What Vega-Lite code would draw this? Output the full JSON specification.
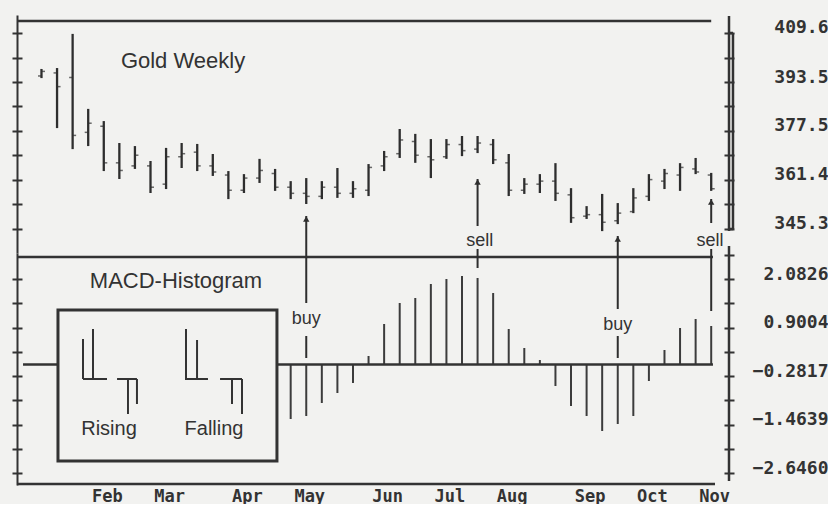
{
  "$schema": "https://vega.github.io/schema/vega-lite/v6.json",
  "background": "#f2f2f0",
  "padding": {"left": 11, "top": 14, "right": 0, "bottom": 0},
  "spacing": 0,
  "bounds": "flush",
  "config": {"view": {"stroke": null}, "axis": {"grid": false, "title": null, "labelFlush": false}},
  "datasets": {
    "ohlc": [
      {"date":"1991-01-04","open":395.5,"high":397.8,"low":394.8,"close":397.0},
      {"date":"1991-01-11","open":396.5,"high":398.1,"low":378.4,"close":392.0},
      {"date":"1991-01-18","open":395.0,"high":409.3,"low":371.5,"close":376.0},
      {"date":"1991-01-25","open":377.0,"high":384.7,"low":372.5,"close":380.0},
      {"date":"1991-02-01","open":379.0,"high":380.7,"low":364.3,"close":367.0},
      {"date":"1991-02-08","open":367.0,"high":373.5,"low":361.7,"close":364.5},
      {"date":"1991-02-15","open":366.0,"high":372.5,"low":365.0,"close":369.5},
      {"date":"1991-02-22","open":366.0,"high":367.6,"low":357.1,"close":359.0},
      {"date":"1991-03-01","open":360.0,"high":371.9,"low":358.4,"close":369.0},
      {"date":"1991-03-08","open":369.0,"high":373.5,"low":365.3,"close":370.0},
      {"date":"1991-03-15","open":370.5,"high":373.2,"low":364.3,"close":366.0},
      {"date":"1991-03-22","open":366.0,"high":369.9,"low":362.7,"close":364.0},
      {"date":"1991-03-29","open":363.0,"high":364.3,"low":355.1,"close":358.0},
      {"date":"1991-04-05","open":358.0,"high":363.3,"low":357.1,"close":362.0},
      {"date":"1991-04-12","open":362.0,"high":368.3,"low":360.4,"close":364.5},
      {"date":"1991-04-19","open":363.5,"high":365.0,"low":357.8,"close":359.0},
      {"date":"1991-04-26","open":359.0,"high":361.0,"low":355.1,"close":357.0},
      {"date":"1991-05-03","open":357.0,"high":362.0,"low":353.5,"close":356.0},
      {"date":"1991-05-10","open":356.0,"high":361.0,"low":355.1,"close":359.0},
      {"date":"1991-05-17","open":359.0,"high":365.3,"low":355.5,"close":357.0},
      {"date":"1991-05-24","open":357.0,"high":361.0,"low":355.5,"close":358.5},
      {"date":"1991-05-31","open":358.0,"high":366.6,"low":356.1,"close":365.5},
      {"date":"1991-06-07","open":366.0,"high":370.9,"low":364.3,"close":369.0},
      {"date":"1991-06-14","open":370.0,"high":378.1,"low":368.6,"close":374.5},
      {"date":"1991-06-21","open":374.0,"high":376.5,"low":367.0,"close":369.5},
      {"date":"1991-06-28","open":369.0,"high":374.8,"low":362.0,"close":368.0},
      {"date":"1991-07-05","open":369.0,"high":374.8,"low":368.3,"close":373.0},
      {"date":"1991-07-12","open":373.0,"high":375.8,"low":369.2,"close":371.0},
      {"date":"1991-07-19","open":371.5,"high":375.8,"low":370.2,"close":373.5},
      {"date":"1991-07-26","open":373.0,"high":374.8,"low":366.6,"close":368.0},
      {"date":"1991-08-02","open":367.0,"high":369.9,"low":356.1,"close":358.0},
      {"date":"1991-08-09","open":358.0,"high":362.0,"low":356.8,"close":360.0},
      {"date":"1991-08-16","open":360.0,"high":363.3,"low":357.1,"close":361.0},
      {"date":"1991-08-23","open":361.0,"high":366.9,"low":354.5,"close":357.0},
      {"date":"1991-08-30","open":356.5,"high":358.7,"low":347.3,"close":349.0},
      {"date":"1991-09-06","open":349.5,"high":352.8,"low":348.6,"close":350.0},
      {"date":"1991-09-13","open":350.0,"high":356.8,"low":344.6,"close":347.5},
      {"date":"1991-09-20","open":348.0,"high":353.8,"low":346.9,"close":350.5},
      {"date":"1991-09-27","open":351.0,"high":358.7,"low":350.5,"close":355.5},
      {"date":"1991-10-04","open":356.0,"high":363.3,"low":354.5,"close":361.5},
      {"date":"1991-10-11","open":361.0,"high":365.0,"low":358.4,"close":363.5},
      {"date":"1991-10-18","open":363.0,"high":366.9,"low":357.8,"close":365.5},
      {"date":"1991-10-25","open":365.0,"high":368.6,"low":363.3,"close":364.0},
      {"date":"1991-11-01","open":363.0,"high":363.7,"low":357.8,"close":358.5}
    ],
    "macd": [
      {"date":"1991-04-26","hist":-1.33},
      {"date":"1991-05-03","hist":-1.256},
      {"date":"1991-05-10","hist":-0.939},
      {"date":"1991-05-17","hist":-0.696},
      {"date":"1991-05-24","hist":-0.452},
      {"date":"1991-05-31","hist":0.206},
      {"date":"1991-06-07","hist":0.986},
      {"date":"1991-06-14","hist":1.498},
      {"date":"1991-06-21","hist":1.62},
      {"date":"1991-06-28","hist":1.961},
      {"date":"1991-07-05","hist":2.083},
      {"date":"1991-07-12","hist":2.156},
      {"date":"1991-07-19","hist":2.107},
      {"date":"1991-07-26","hist":1.741},
      {"date":"1991-08-02","hist":0.864},
      {"date":"1991-08-09","hist":0.401},
      {"date":"1991-08-16","hist":0.108},
      {"date":"1991-08-23","hist":-0.525},
      {"date":"1991-08-30","hist":-1.013},
      {"date":"1991-09-06","hist":-1.256},
      {"date":"1991-09-13","hist":-1.622},
      {"date":"1991-09-20","hist":-1.451},
      {"date":"1991-09-27","hist":-1.256},
      {"date":"1991-10-04","hist":-0.403},
      {"date":"1991-10-11","hist":0.352},
      {"date":"1991-10-18","hist":0.888},
      {"date":"1991-10-25","hist":1.108},
      {"date":"1991-11-01","hist":0.937}
    ],
    "sigU": [
      {"date":"1991-05-03","p1":349.56,"p2":337.42},
      {"date":"1991-09-20","p1":343.0,"p2":337.42},
      {"date":"1991-07-19","p1":361.7,"p2":346.28},
      {"date":"1991-07-19","p1":338.73,"p2":337.42},
      {"date":"1991-11-01","p1":355.14,"p2":347.26},
      {"date":"1991-11-01","p1":338.73,"p2":337.42}
    ],
    "heads": [
      {"date":"1991-05-03","p":349.56},
      {"date":"1991-09-20","p":343.0},
      {"date":"1991-07-19","p":361.7},
      {"date":"1991-11-01","p":355.14}
    ],
    "frameU": [
      {"x1":"1990-12-24T00:00:00Z","x2":"1991-11-01T00:00:00Z","p1":413.54,"p2":413.54},
      {"x1":"1991-11-09T00:00:00Z","x2":"1991-11-09T00:00:00Z","p1":415.18,"p2":344.64},
      {"x1":"1991-11-09T00:00:00Z","x2":"1991-11-10T19:00:00Z","p1":409.6,"p2":409.6},
      {"x1":"1991-11-10T19:00:00Z","x2":"1991-11-10T19:00:00Z","p1":409.6,"p2":345.3},
      {"x1":"1991-11-09T00:00:00Z","x2":"1991-11-10T19:00:00Z","p1":345.3,"p2":345.3}
    ],
    "sigL": [
      {"date":"1991-05-03","v1":2.7163,"v2":1.497},
      {"date":"1991-05-03","v1":0.6934,"v2":0.157},
      {"date":"1991-09-20","v1":2.7163,"v2":1.351},
      {"date":"1991-09-20","v1":0.693,"v2":0.157},
      {"date":"1991-07-19","v1":2.7163,"v2":2.3507},
      {"date":"1991-11-01","v1":2.7163,"v2":1.3027}
    ],
    "frameL": [
      {"x1":"1990-12-24T00:00:00Z","x2":"1991-11-01T19:00:00Z","v1":2.619,"v2":2.619},
      {"x1":"1990-12-26T17:00:00Z","x2":"1991-11-01T19:00:00Z","v1":0,"v2":0},
      {"x1":"1990-12-24T00:00:00Z","x2":"1991-11-02T17:00:00Z","v1":-2.9137,"v2":-2.9137},
      {"x1":"1991-11-09T00:00:00Z","x2":"1991-11-09T00:00:00Z","v1":2.887,"v2":-2.841}
    ],
    "box": [
      {"x1":"1991-01-11T10:00:00Z","x2":"1991-04-19T20:00:00Z","v1":1.327,"v2":-2.353}
    ],
    "glyphs": [
      {"x1":"1991-01-22T16:00:00Z","x2":"1991-01-22T16:00:00Z","v1":0.62,"v2":-0.355},
      {"x1":"1991-01-27T04:00:00Z","x2":"1991-01-27T04:00:00Z","v1":0.864,"v2":-0.355},
      {"x1":"1991-01-22T16:00:00Z","x2":"1991-02-02T11:00:00Z","v1":-0.355,"v2":-0.355},
      {"x1":"1991-02-06T23:00:00Z","x2":"1991-02-15T22:00:00Z","v1":-0.355,"v2":-0.355},
      {"x1":"1991-02-11T21:00:00Z","x2":"1991-02-11T21:00:00Z","v1":-0.355,"v2":-1.208},
      {"x1":"1991-02-15T22:00:00Z","x2":"1991-02-15T22:00:00Z","v1":-0.355,"v2":-0.964},
      {"x1":"1991-03-09T23:00:00Z","x2":"1991-03-09T23:00:00Z","v1":0.864,"v2":-0.355},
      {"x1":"1991-03-14T22:00:00Z","x2":"1991-03-14T22:00:00Z","v1":0.596,"v2":-0.355},
      {"x1":"1991-03-09T12:00:00Z","x2":"1991-03-19T20:00:00Z","v1":-0.355,"v2":-0.355},
      {"x1":"1991-03-25T06:00:00Z","x2":"1991-04-04T03:00:00Z","v1":-0.355,"v2":-0.355},
      {"x1":"1991-03-30T15:00:00Z","x2":"1991-03-30T15:00:00Z","v1":-0.355,"v2":-0.964},
      {"x1":"1991-04-04T03:00:00Z","x2":"1991-04-04T03:00:00Z","v1":-0.355,"v2":-1.208}
    ]
  },
  "vconcat": [
    {
      "width": 712,
      "height": 238,
      "resolve": {"axis": {"y": "independent"}},
      "layer": [
        {
          "data": {"name": "ohlc"},
          "mark": {"type": "rule", "strokeWidth": 2.3, "color": "#2e2e2e"},
          "encoding": {
            "x": {"field": "date", "type": "temporal", "scale": {"type": "utc", "domain": [{"year":1990,"month":12,"date":24,"utc":true},{"year":1991,"month":11,"date":9,"utc":true}]}, "axis": null},
            "y": {"field": "high", "type": "quantitative", "scale": {"domain": [337.42, 415.5], "zero": false, "nice": false},
                  "axis": {"orient": "left", "values": [409.6,401.55,393.5,385.5,377.5,369.45,361.4,353.35,345.3], "labels": false, "ticks": true, "tickSize": 5, "tickWidth": 2, "tickColor": "#333", "domain": true, "domainWidth": 2, "domainColor": "#333"}},
            "y2": {"field": "low"}
          }
        },
        {
          "data": {"name": "ohlc"},
          "mark": {"type": "tick", "orient": "horizontal", "size": 3, "thickness": 1.5, "xOffset": -2, "color": "#2e2e2e"},
          "encoding": {
            "x": {"field": "date", "type": "temporal", "axis": null},
            "y": {"field": "open", "type": "quantitative",
                  "axis": {"orient": "left", "offset": -5, "values": [409.6,401.55,393.5,385.5,377.5,369.45,361.4,353.35,345.3], "labels": false, "ticks": true, "tickSize": 5, "tickWidth": 2, "tickColor": "#333", "domain": false}}
          }
        },
        {
          "data": {"name": "ohlc"},
          "mark": {"type": "tick", "orient": "horizontal", "size": 3, "thickness": 1.5, "xOffset": 2, "color": "#2e2e2e"},
          "encoding": {
            "x": {"field": "date", "type": "temporal", "axis": null},
            "y": {"field": "close", "type": "quantitative",
                  "axis": {"orient": "right", "values": [409.6,401.55,393.5,385.5,377.5,369.45,361.4,353.35,345.3], "labels": false, "ticks": true, "tickSize": 5, "tickWidth": 2, "tickColor": "#333", "domain": false}}
          }
        },
        {
          "data": {"name": "sigU"},
          "mark": {"type": "rule", "strokeWidth": 2, "color": "#2e2e2e"},
          "encoding": {
            "x": {"field": "date", "type": "temporal", "axis": null},
            "y": {"field": "p1", "type": "quantitative",
                  "axis": {"orient": "right", "offset": -5, "values": [409.6,401.55,393.5,385.5,377.5,369.45,361.4,353.35,345.3], "labels": false, "ticks": true, "tickSize": 5, "tickWidth": 2, "tickColor": "#333", "domain": false}},
            "y2": {"field": "p2"}
          }
        },
        {
          "data": {"name": "heads"},
          "mark": {"type": "point", "shape": "triangle-up", "filled": true, "size": 40, "color": "#2e2e2e", "opacity": 1, "yOffset": 3},
          "encoding": {
            "x": {"field": "date", "type": "temporal", "axis": null},
            "y": {"field": "p", "type": "quantitative",
                  "axis": {"orient": "right", "values": [409.6,393.5,377.5,361.4,345.3], "format": ".1f", "ticks": false, "tickSize": 0, "domain": false, "labelAlign": "right", "labelBaseline": "middle", "labelPadding": 99, "labelOffset": -5, "labelFont": "DejaVu Sans Mono", "labelFontWeight": "bold", "labelFontSize": 18, "labelColor": "#333"}}
          }
        },
        {
          "data": {"name": "frameU"},
          "mark": {"type": "rule", "strokeWidth": 2.5, "color": "#333"},
          "encoding": {
            "x": {"field": "x1", "type": "temporal", "axis": null},
            "x2": {"field": "x2"},
            "y": {"field": "p1", "type": "quantitative", "axis": null},
            "y2": {"field": "p2"}
          }
        },
        {
          "data": {"values": [{"date": "1991-03-08T15:00:00Z", "p": 398.12, "label": "Gold Weekly"}]},
          "mark": {"type": "text", "font": "Liberation Sans", "fontSize": 22, "color": "#333", "align": "center", "baseline": "alphabetic"},
          "encoding": {
            "x": {"field": "date", "type": "temporal", "axis": null},
            "y": {"field": "p", "type": "quantitative", "axis": null},
            "text": {"field": "label"}
          }
        },
        {
          "data": {"values": [{"date": "1991-07-20T00:00:00Z", "p": 339.72, "label": "sell"}, {"date": "1991-10-31T11:00:00Z", "p": 339.72, "label": "sell"}]},
          "mark": {"type": "text", "font": "Liberation Sans", "fontSize": 18, "color": "#333", "align": "center", "baseline": "alphabetic"},
          "encoding": {
            "x": {"field": "date", "type": "temporal", "axis": null},
            "y": {"field": "p", "type": "quantitative", "axis": null},
            "text": {"field": "label"}
          }
        }
      ]
    },
    {
      "width": 712,
      "height": 232,
      "resolve": {"axis": {"y": "independent"}},
      "layer": [
        {
          "data": {"name": "macd"},
          "mark": {"type": "rule", "strokeWidth": 2, "color": "#3c3c3c"},
          "encoding": {
            "x": {"field": "date", "type": "temporal", "scale": {"type": "utc", "domain": [{"year":1990,"month":12,"date":24,"utc":true},{"year":1991,"month":11,"date":9,"utc":true}]},
                  "axis": {"orient": "bottom", "values": [{"year":1991,"month":2,"date":1,"utc":true},{"year":1991,"month":3,"date":1,"utc":true},{"year":1991,"month":4,"date":5,"utc":true},{"year":1991,"month":5,"date":3,"utc":true},{"year":1991,"month":6,"date":7,"utc":true},{"year":1991,"month":7,"date":5,"utc":true},{"year":1991,"month":8,"date":2,"utc":true},{"year":1991,"month":9,"date":6,"utc":true},{"year":1991,"month":10,"date":4,"utc":true},{"year":1991,"month":11,"date":1,"utc":true}],
                           "labelExpr": "utcFormat(datum.value, '%b')", "ticks": false, "tickSize": 0, "domain": false, "labelPadding": 3, "labelOffset": 3, "labelOverlap": false, "labelFont": "DejaVu Sans Mono", "labelFontWeight": "bold", "labelFontSize": 17, "labelColor": "#333"}},
            "y": {"field": "hist", "type": "quantitative", "scale": {"domain": [-2.9381, 2.7163], "zero": false, "nice": false},
                  "axis": {"orient": "left", "values": [2.0826,1.4915,0.9004,0.3094,-0.2817,-0.8728,-1.4639,-2.055,-2.646], "labels": false, "ticks": true, "tickSize": 5, "tickWidth": 2, "tickColor": "#333", "domain": true, "domainWidth": 2, "domainColor": "#333"}},
            "y2": {"datum": 0}
          }
        },
        {
          "data": {"name": "frameL"},
          "mark": {"type": "rule", "strokeWidth": 2.5, "color": "#333"},
          "encoding": {
            "x": {"field": "x1", "type": "temporal"},
            "x2": {"field": "x2"},
            "y": {"field": "v1", "type": "quantitative",
                  "axis": {"orient": "left", "offset": -5, "values": [2.0826,1.4915,0.9004,0.3094,-0.2817,-0.8728,-1.4639,-2.055,-2.646], "labels": false, "ticks": true, "tickSize": 5, "tickWidth": 2, "tickColor": "#333", "domain": false}},
            "y2": {"field": "v2"}
          }
        },
        {
          "data": {"name": "sigL"},
          "mark": {"type": "rule", "strokeWidth": 2, "color": "#2e2e2e"},
          "encoding": {
            "x": {"field": "date", "type": "temporal"},
            "y": {"field": "v1", "type": "quantitative",
                  "axis": {"orient": "right", "values": [2.6737,2.0826,1.4915,0.9004,0.3094,-0.2817,-0.8728,-1.4639,-2.055,-2.646], "labels": false, "ticks": true, "tickSize": 5, "tickWidth": 2, "tickColor": "#333", "domain": false}},
            "y2": {"field": "v2"}
          }
        },
        {
          "data": {"name": "box"},
          "mark": {"type": "rect", "fill": "#f2f2f0", "stroke": "#333", "strokeWidth": 3},
          "encoding": {
            "x": {"field": "x1", "type": "temporal"},
            "x2": {"field": "x2"},
            "y": {"field": "v1", "type": "quantitative",
                  "axis": {"orient": "right", "offset": -5, "values": [2.6737,2.0826,1.4915,0.9004,0.3094,-0.2817,-0.8728,-1.4639,-2.055,-2.646], "labels": false, "ticks": true, "tickSize": 5, "tickWidth": 2, "tickColor": "#333", "domain": false}},
            "y2": {"field": "v2"}
          }
        },
        {
          "data": {"name": "glyphs"},
          "mark": {"type": "rule", "strokeWidth": 2, "color": "#333"},
          "encoding": {
            "x": {"field": "x1", "type": "temporal"},
            "x2": {"field": "x2"},
            "y": {"field": "v1", "type": "quantitative",
                  "axis": {"orient": "right", "values": [2.0826,0.9004,-0.2817,-1.4639,-2.646], "format": ".4f", "ticks": false, "tickSize": 0, "domain": false, "labelAlign": "right", "labelBaseline": "middle", "labelPadding": 99, "labelOffset": -5, "labelFont": "DejaVu Sans Mono", "labelFontWeight": "bold", "labelFontSize": 18, "labelColor": "#333"}},
            "y2": {"field": "v2"}
          }
        },
        {
          "data": {"values": [{"date": "1991-03-05T11:00:00Z", "v": 1.863, "label": "MACD-Histogram"}]},
          "mark": {"type": "text", "font": "Liberation Sans", "fontSize": 22, "color": "#333", "align": "center", "baseline": "alphabetic"},
          "encoding": {
            "x": {"field": "date", "type": "temporal"},
            "y": {"field": "v", "type": "quantitative", "axis": null},
            "text": {"field": "label"}
          }
        },
        {
          "data": {"values": [{"date": "1991-02-03T08:00:00Z", "v": -1.7195, "label": "Rising"}, {"date": "1991-03-22T13:00:00Z", "v": -1.7195, "label": "Falling"}]},
          "mark": {"type": "text", "font": "Liberation Sans", "fontSize": 20, "color": "#333", "align": "center", "baseline": "alphabetic"},
          "encoding": {
            "x": {"field": "date", "type": "temporal"},
            "y": {"field": "v", "type": "quantitative", "axis": null},
            "text": {"field": "label"}
          }
        },
        {
          "data": {"values": [{"date": "1991-05-03T00:00:00Z", "v": 0.986, "label": "buy"}, {"date": "1991-09-20T00:00:00Z", "v": 0.8396, "label": "buy"}]},
          "mark": {"type": "text", "font": "Liberation Sans", "fontSize": 18, "color": "#333", "align": "center", "baseline": "alphabetic"},
          "encoding": {
            "x": {"field": "date", "type": "temporal"},
            "y": {"field": "v", "type": "quantitative", "axis": null},
            "text": {"field": "label"}
          }
        }
      ]
    }
  ]
}
